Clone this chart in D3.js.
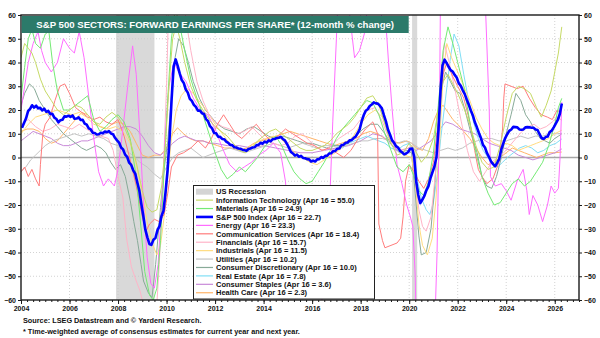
<!DOCTYPE html>
<html>
<head>
<meta charset="utf-8">
<script src="https://cdn.jsdelivr.net/npm/d3@7"></script>
<style>
  html, body { margin: 0; padding: 0; background: #fff; }
  svg { display: block; font-family: "Liberation Sans", Arial, Helvetica, sans-serif; }
</style>
</head>
<body>
<svg id="chart" width="600" height="338"></svg>
<script>
// ---- data -------------------------------------------------------------
// S&P 500 forward EPS, 12-month % change, monthly from Jan 2004 to Apr 2026
const spx = [
  12.5, 14.5, 16.5, 19.5, 20.5, 22, 21, 21.8, 20.7, 20.9, 19.8, 20.6,
  19.2, 19.6, 18.3, 18.4, 16.8, 16.2, 14.8, 15.7, 15.9, 17.3, 17.2, 17.6,
  17.1, 17.7, 16.3, 16.4, 16.9, 15.8, 15.9, 14.3, 13.8, 12.3, 11.8, 10.4,
  10.3, 9.7, 9.8, 10.4, 10.2, 10.9, 10.7, 11.1, 10.1, 9.8, 8.3, 7.2,
  6.3, 4.2, 3.4, 1.2, 0.3, -2.2, -3.1, -5.4, -6.8, -10.4, -13.8, -19.5,
  -24.6, -30.4, -33.6, -36.4, -36.8, -34.6, -33.9, -30.6, -28.9, -24.6, -22.4, -14.6,
  -5.4, 8.4, 24.6, 38.4, 41.3, 38.6, 35.4, 32.6, 31.4, 28.6, 27.3, 24.7,
  23.8, 22.2, 21.3, 19.7, 19.8, 18.6, 18.3, 16.2, 15.3, 13.2, 12.3, 10.3,
  10.2, 8.8, 8.7, 7.8, 7.7, 6.7, 6.2, 5.3, 5.2, 4.3, 4.2, 3.8,
  3.7, 3.3, 3.1, 2.8, 3.6, 3.8, 4.2, 4.3, 5.2, 5.3, 6.2, 5.8,
  6.7, 6.3, 7.2, 6.8, 7.7, 7.8, 8.2, 8.3, 8.7, 7.8, 7.2, 5.8,
  4.2, 2.3, 1.7, 0.8, 1.2, 0.3, 0.7, -0.2, -0.3, -0.7, -0.8, -1.7,
  -1.3, -1.7, -0.8, -0.7, 0.2, -0.2, 0.7, 0.8, 1.7, 1.8, 2.7, 2.8,
  3.7, 3.8, 5.2, 5.3, 6.2, 6.3, 7.2, 7.3, 8.2, 8.8, 10.2, 11.8,
  15.2, 17.8, 19.7, 20.3, 21.7, 22.3, 23.2, 22.8, 22.7, 21.8, 20.7, 17.8,
  15.2, 11.8, 9.7, 7.3, 6.2, 4.8, 4.2, 2.8, 2.2, 1.3, 1.7, 2.3,
  3.7, 3.8, 0.2, -10.2, -15.8, -19.2, -17.8, -16.2, -13.8, -12.2, -8.8, -6.2,
  -3.8, 0.2, 11.8, 28.2, 38.8, 41.2, 39.8, 38.2, 36.8, 36.2, 34.8, 33.7,
  31.3, 30.2, 28.3, 26.7, 24.3, 22.2, 19.8, 17.7, 14.8, 12.7, 10.3, 8.2,
  5.3, 4.2, 1.8, 0.2, -1.7, -2.8, -3.7, -2.3, -0.7, 3.2, 5.8, 8.2,
  9.8, 11.2, 11.8, 12.9, 12.8, 12.7, 11.8, 11.7, 11.8, 12.7, 12.8, 12.7,
  12.5, 12.5, 11.8, 11.6, 9.8, 8.2, 7.8, 8.6, 8.8, 10.7, 11.3, 12.7,
  14.3, 15.8, 18.3, 22.7
];
const spxStart = 2004;

// Sector series as [decimal year, % change]
const infoTech = [[2004.0,42],[2004.15,48],[2004.3,46],[2004.45,44],[2004.6,40],[2004.8,33],[2005.0,28],[2005.25,24],[2005.5,20],[2005.75,18],[2006.0,20],[2006.25,22],[2006.5,21],[2006.75,18],[2007.0,15],[2007.25,14],[2007.5,17],[2007.75,19],[2008.0,17],[2008.25,13],[2008.5,7],[2008.75,-2],[2009.0,-14],[2009.2,-21],[2009.4,-23],[2009.6,-22],[2009.8,-12],[2009.95,5],[2010.1,30],[2010.25,50],[2010.4,56],[2010.55,50],[2010.75,40],[2011.0,30],[2011.25,24],[2011.5,20],[2011.75,16],[2012.0,13],[2012.25,11],[2012.5,9],[2012.75,6],[2013.0,3],[2013.25,2],[2013.5,4],[2013.75,7],[2014.0,9],[2014.25,11],[2014.5,12],[2014.75,10],[2015.0,8],[2015.25,6],[2015.5,4],[2015.75,3],[2016.0,3],[2016.25,4],[2016.5,5],[2016.75,7],[2017.0,10],[2017.25,12],[2017.5,14],[2017.75,17],[2018.0,21],[2018.25,25],[2018.5,26],[2018.75,22],[2019.0,14],[2019.25,6],[2019.5,1],[2019.75,2],[2020.0,6],[2020.25,3],[2020.5,-2],[2020.75,1],[2021.0,8],[2021.2,20],[2021.4,32],[2021.6,35],[2021.8,31],[2022.0,27],[2022.25,21],[2022.5,14],[2022.75,5],[2023.0,-2],[2023.25,-5],[2023.5,-4],[2023.75,5],[2024.0,17],[2024.25,27],[2024.5,30],[2024.75,29],[2025.0,27],[2025.25,21],[2025.45,17],[2025.65,22],[2025.85,28],[2026.0,36],[2026.15,44],[2026.29,55.0]];
const materials = [[2004.0,25],[2004.15,38],[2004.3,50],[2004.45,54],[2004.6,48],[2004.8,46],[2005.0,52],[2005.15,53],[2005.3,40],[2005.5,28],[2005.75,20],[2006.0,20],[2006.25,22],[2006.5,24],[2006.75,26],[2007.0,16],[2007.25,11],[2007.5,13],[2007.75,16],[2008.0,18],[2008.25,15],[2008.5,8],[2008.75,-8],[2008.95,-30],[2009.1,-48],[2009.3,-58],[2009.45,-60],[2009.6,-55],[2009.75,-35],[2009.9,-5],[2010.05,25],[2010.2,50],[2010.35,62],[2010.5,58],[2010.75,45],[2011.0,33],[2011.25,25],[2011.5,18],[2011.75,10],[2012.0,2],[2012.25,-5],[2012.5,-9],[2012.75,-7],[2013.0,-4],[2013.25,-6],[2013.5,-3],[2013.75,0],[2014.0,4],[2014.25,7],[2014.5,9],[2014.75,5],[2015.0,-1],[2015.25,-6],[2015.5,-9],[2015.75,-11],[2016.0,-10],[2016.25,-6],[2016.5,-2],[2016.75,3],[2017.0,8],[2017.25,12],[2017.5,15],[2017.75,18],[2018.0,21],[2018.25,24],[2018.5,23],[2018.75,18],[2019.0,10],[2019.25,3],[2019.5,-4],[2019.75,-6],[2020.0,-3],[2020.2,-8],[2020.4,-14],[2020.6,-16],[2020.8,-10],[2021.0,2],[2021.2,22],[2021.4,45],[2021.6,55],[2021.8,48],[2022.0,40],[2022.25,30],[2022.5,15],[2022.75,2],[2023.0,-8],[2023.25,-15],[2023.5,-20],[2023.75,-19],[2024.0,-15],[2024.25,-11],[2024.5,-9],[2024.75,-12],[2025.0,-10],[2025.25,-6],[2025.5,-2],[2025.75,5],[2026.0,14],[2026.15,21],[2026.29,24.9]];
const energy = [[2004.0,20],[2004.15,30],[2004.3,40],[2004.5,48],[2004.7,53],[2004.85,45],[2005.0,40],[2005.25,36],[2005.5,40],[2005.75,50],[2006.0,46],[2006.2,44],[2006.4,53],[2006.6,42],[2006.8,25],[2007.0,8],[2007.2,-6],[2007.4,-12],[2007.6,-9],[2007.85,-12],[2008.0,-5],[2008.2,12],[2008.4,30],[2008.6,47],[2008.75,35],[2008.9,10],[2009.05,-20],[2009.2,-42],[2009.35,-53],[2009.5,-55],[2009.65,-45],[2009.8,-20],[2009.95,10],[2010.1,30],[2010.3,40],[2010.5,36],[2010.8,32],[2011.1,25],[2011.4,20],[2011.7,18],[2012.0,12],[2012.3,4],[2012.6,-3],[2012.9,-6],[2013.2,-4],[2013.5,-2],[2013.8,1],[2014.1,3],[2014.4,6],[2014.7,2],[2014.9,-10],[2015.05,-30],[2015.2,-50],[2015.35,-68],[2015.6,-72],[2015.9,-75],[2016.2,-70],[2016.5,-55],[2016.7,-25],[2016.85,15],[2017.0,50],[2017.1,75],[2017.35,85],[2017.55,60],[2017.75,42],[2017.95,45],[2018.15,52],[2018.3,65],[2018.6,70],[2018.85,60],[2019.05,55],[2019.15,40],[2019.3,20],[2019.5,-3],[2019.7,-11],[2019.9,-20],[2020.05,-25],[2020.15,-29],[2020.25,-50],[2020.3,-80],[2020.6,-95],[2021.0,-90],[2021.15,-40],[2021.25,20],[2021.3,80],[2021.6,200],[2022.0,180],[2022.5,120],[2022.9,80],[2023.15,62],[2023.3,20],[2023.35,-8],[2023.55,-12],[2023.8,-11],[2024.0,-14],[2024.2,-18],[2024.45,-10],[2024.7,-5],[2024.85,-14],[2024.95,-24],[2025.1,-16],[2025.3,-20],[2025.5,-27],[2025.7,-20],[2025.85,-12],[2026.0,-15],[2026.15,-13],[2026.22,0],[2026.29,23.3]];
const commServices = [[2004.0,-6],[2004.15,-4],[2004.3,-8],[2004.45,-5],[2004.6,-9],[2004.75,-12],[2004.8,-3],[2004.9,10],[2005.0,14],[2005.2,17],[2005.4,24],[2005.6,30],[2005.8,31],[2006.0,27],[2006.25,21],[2006.5,19],[2006.75,17],[2007.0,16],[2007.25,17],[2007.5,15],[2007.75,14],[2008.0,16],[2008.25,9],[2008.5,-1],[2008.75,-12],[2009.0,-25],[2009.15,-31],[2009.3,-28],[2009.5,-26],[2009.7,-27],[2009.9,-24],[2010.05,-15],[2010.2,-4],[2010.45,1],[2010.7,2],[2011.0,4],[2011.3,7],[2011.6,4],[2011.85,8],[2012.1,14],[2012.35,18],[2012.6,14],[2012.85,10],[2013.1,8],[2013.4,11],[2013.7,14],[2014.0,10],[2014.3,7],[2014.6,9],[2014.9,12],[2015.2,10],[2015.5,8],[2015.8,6],[2016.1,5],[2016.4,3],[2016.7,4],[2017.0,2],[2017.3,0],[2017.6,3],[2017.9,8],[2018.2,12],[2018.5,15],[2018.7,10],[2018.75,-28],[2018.9,-35],[2019.0,-38],[2019.25,-37],[2019.5,-36],[2019.65,-34],[2019.75,-25],[2019.85,-10],[2020.0,-3],[2020.2,-6],[2020.4,-10],[2020.6,-13],[2020.8,-9],[2021.0,-2],[2021.2,15],[2021.4,35],[2021.55,40],[2021.8,34],[2022.0,30],[2022.25,25],[2022.5,15],[2022.7,3],[2022.85,-5],[2023.0,-8],[2023.2,-11],[2023.45,-9],[2023.7,-2],[2023.85,12],[2023.9,25],[2023.95,31],[2024.2,30],[2024.45,29],[2024.7,30],[2024.95,25],[2025.2,21],[2025.45,18],[2025.7,17],[2025.9,16],[2026.1,20],[2026.29,18.4]];
const financials = [[2004.0,14],[2004.3,16],[2004.6,13],[2004.9,11],[2005.2,12],[2005.5,14],[2005.8,13],[2006.1,12],[2006.4,14],[2006.7,12],[2007.0,10],[2007.3,9],[2007.6,8],[2007.8,3],[2008.0,-8],[2008.2,-17],[2008.35,-34],[2008.55,-46],[2008.75,-52],[2008.9,-56],[2009.05,-62],[2009.3,-75],[2009.55,-70],[2009.7,-45],[2009.85,-10],[2010.0,30],[2010.1,70],[2010.3,90],[2010.6,75],[2010.8,58],[2011.0,45],[2011.25,32],[2011.5,24],[2011.75,18],[2012.0,15],[2012.3,13],[2012.6,12],[2012.9,10],[2013.2,11],[2013.5,13],[2013.8,10],[2014.1,7],[2014.4,6],[2014.7,5],[2015.0,6],[2015.3,9],[2015.6,10],[2015.9,7],[2016.2,4],[2016.5,3],[2016.8,5],[2017.1,8],[2017.4,10],[2017.7,12],[2018.0,16],[2018.3,20],[2018.6,21],[2018.9,15],[2019.2,7],[2019.5,4],[2019.8,3],[2020.1,5],[2020.25,-8],[2020.4,-22],[2020.55,-29],[2020.7,-31],[2020.9,-25],[2021.1,-5],[2021.3,30],[2021.45,48],[2021.65,40],[2021.9,28],[2022.15,15],[2022.4,3],[2022.65,-6],[2022.9,-10],[2023.15,-6],[2023.4,-2],[2023.65,0],[2023.9,2],[2024.15,5],[2024.4,8],[2024.65,11],[2024.9,13],[2025.15,14],[2025.4,12],[2025.65,13],[2025.9,15],[2026.1,17],[2026.29,15.7]];
const industrials = [[2004.0,10],[2004.3,14],[2004.6,17],[2004.9,18],[2005.2,19],[2005.5,20],[2005.8,19],[2006.1,18],[2006.4,19],[2006.7,17],[2007.0,14],[2007.3,13],[2007.6,12],[2007.9,13],[2008.2,11],[2008.5,6],[2008.75,-3],[2009.0,-15],[2009.2,-27],[2009.4,-36],[2009.6,-41],[2009.75,-37],[2009.9,-25],[2010.05,-8],[2010.2,8],[2010.4,20],[2010.6,26],[2010.85,29],[2011.1,27],[2011.4,23],[2011.7,19],[2012.0,14],[2012.3,10],[2012.6,6],[2012.9,4],[2013.2,3],[2013.5,5],[2013.8,7],[2014.1,8],[2014.4,9],[2014.7,8],[2015.0,5],[2015.3,2],[2015.6,0],[2015.9,-2],[2016.2,-3],[2016.5,-1],[2016.8,1],[2017.1,3],[2017.4,6],[2017.7,9],[2018.0,14],[2018.3,18],[2018.6,20],[2018.9,17],[2019.2,9],[2019.5,4],[2019.8,1],[2020.1,0],[2020.25,-10],[2020.4,-28],[2020.55,-37],[2020.75,-41],[2020.95,-34],[2021.1,-18],[2021.25,5],[2021.4,35],[2021.55,48],[2021.75,42],[2022.0,36],[2022.25,30],[2022.5,24],[2022.75,17],[2023.0,12],[2023.25,8],[2023.5,6],[2023.75,5],[2024.0,6],[2024.25,5],[2024.5,3],[2024.75,4],[2025.0,5],[2025.25,6],[2025.5,7],[2025.75,8],[2026.0,10],[2026.29,11.5]];
const utilities = [[2004.0,-6],[2004.2,-4],[2004.4,-1],[2004.6,1],[2004.8,3],[2005.0,5],[2005.3,7],[2005.6,8],[2005.9,9],[2006.2,10],[2006.5,9],[2006.8,10],[2007.1,9],[2007.4,8],[2007.7,6],[2008.0,5],[2008.3,3],[2008.6,1],[2008.9,-2],[2009.2,-4],[2009.5,-7],[2009.75,-9],[2010.0,-4],[2010.25,0],[2010.5,2],[2010.75,3],[2011.0,4],[2011.25,2],[2011.5,0],[2011.75,1],[2012.0,2],[2012.3,3],[2012.6,4],[2012.9,3],[2013.2,2],[2013.5,3],[2013.8,4],[2014.1,5],[2014.4,6],[2014.7,5],[2015.0,4],[2015.3,5],[2015.6,6],[2015.9,5],[2016.2,4],[2016.5,5],[2016.8,5],[2017.1,4],[2017.4,5],[2017.7,6],[2018.0,7],[2018.3,7],[2018.6,8],[2018.9,8],[2019.2,7],[2019.5,6],[2019.8,7],[2020.1,6],[2020.4,4],[2020.7,3],[2021.0,2],[2021.3,3],[2021.6,4],[2021.9,3],[2022.2,4],[2022.5,6],[2022.8,7],[2023.1,8],[2023.4,8],[2023.7,7],[2024.0,7],[2024.3,8],[2024.6,9],[2024.9,8],[2025.2,9],[2025.5,9],[2025.8,10],[2026.1,10],[2026.29,10.2]];
const consDiscretionary = [[2004.0,22],[2004.15,27],[2004.35,31],[2004.55,29],[2004.75,24],[2005.0,20],[2005.25,16],[2005.5,13],[2005.75,10],[2006.0,8],[2006.25,6],[2006.5,4],[2006.7,3],[2006.9,4],[2007.1,5],[2007.3,4],[2007.5,2],[2007.7,-2],[2007.9,-5],[2008.1,-3],[2008.3,-8],[2008.5,-18],[2008.65,-27],[2008.8,-35],[2008.95,-45],[2009.05,-52],[2009.25,-57],[2009.4,-59],[2009.55,-45],[2009.75,-21],[2009.9,-5],[2010.05,7],[2010.2,25],[2010.35,42],[2010.5,50],[2010.7,47],[2010.9,40],[2011.1,32],[2011.35,25],[2011.6,20],[2011.85,17],[2012.1,14],[2012.4,12],[2012.7,11],[2013.0,10],[2013.3,12],[2013.6,13],[2013.9,11],[2014.2,9],[2014.5,8],[2014.8,9],[2015.1,8],[2015.4,7],[2015.7,6],[2016.0,6],[2016.3,5],[2016.6,4],[2016.9,5],[2017.2,5],[2017.5,6],[2017.8,9],[2018.1,12],[2018.4,14],[2018.7,14],[2019.0,10],[2019.3,5],[2019.6,2],[2019.9,3],[2020.1,2],[2020.25,-15],[2020.4,-33],[2020.5,-41],[2020.7,-40],[2020.9,-30],[2021.05,-12],[2021.2,10],[2021.35,30],[2021.5,36],[2021.7,32],[2021.9,28],[2022.1,27],[2022.3,20],[2022.55,10],[2022.8,2],[2023.0,-8],[2023.2,-12],[2023.4,-13],[2023.6,-8],[2023.8,0],[2024.0,10],[2024.2,18],[2024.4,27],[2024.6,24],[2024.8,18],[2025.0,15],[2025.2,11],[2025.4,8],[2025.6,7],[2025.8,6],[2026.0,8],[2026.15,9],[2026.29,10.0]];
const realEstate = [[2016.75,6],[2017.0,5],[2017.25,4],[2017.5,6],[2017.75,7],[2018.0,8],[2018.25,9],[2018.5,8],[2018.75,7],[2019.0,6],[2019.25,4],[2019.5,3],[2019.75,5],[2020.0,6],[2020.2,1],[2020.35,-10],[2020.5,-17],[2020.7,-22],[2020.85,-24],[2021.0,-19],[2021.15,-8],[2021.3,8],[2021.5,25],[2021.7,42],[2021.85,52],[2022.05,47],[2022.25,35],[2022.45,24],[2022.65,15],[2022.85,8],[2023.05,3],[2023.25,0],[2023.45,-3],[2023.65,-4],[2023.85,-2],[2024.05,0],[2024.3,2],[2024.55,4],[2024.8,5],[2025.05,4],[2025.3,2],[2025.55,3],[2025.8,5],[2026.05,6],[2026.29,7.8]];
const consStaples = [[2004.0,7],[2004.25,9],[2004.5,11],[2004.75,10],[2005.0,9],[2005.25,8],[2005.5,6],[2005.75,5],[2006.0,5],[2006.25,6],[2006.5,7],[2006.75,7],[2007.0,8],[2007.25,9],[2007.5,10],[2007.75,11],[2008.0,12],[2008.25,13],[2008.5,13],[2008.75,12],[2009.0,9],[2009.25,5],[2009.5,2],[2009.75,1],[2010.0,3],[2010.25,6],[2010.5,8],[2010.75,9],[2011.0,8],[2011.25,7],[2011.5,7],[2011.75,6],[2012.0,6],[2012.5,5],[2013.0,5],[2013.5,4],[2014.0,5],[2014.5,4],[2015.0,3],[2015.5,2],[2016.0,2],[2016.5,3],[2017.0,4],[2017.5,5],[2018.0,7],[2018.5,10],[2018.9,9],[2019.2,6],[2019.6,3],[2020.0,4],[2020.3,3],[2020.6,5],[2020.9,7],[2021.2,11],[2021.5,15],[2021.8,14],[2022.1,12],[2022.4,11],[2022.7,10],[2023.0,8],[2023.3,6],[2023.6,5],[2023.9,4],[2024.2,3],[2024.5,1],[2024.8,0],[2025.1,-1],[2025.4,0],[2025.7,1],[2026.0,2],[2026.29,3.6]];
const healthCare = [[2004.0,11],[2004.25,12],[2004.5,12],[2004.75,11],[2005.0,8],[2005.25,6],[2005.5,7],[2005.75,10],[2006.0,13],[2006.25,16],[2006.5,19],[2006.75,18],[2007.0,15],[2007.25,13],[2007.5,12],[2007.75,14],[2008.0,15],[2008.25,14],[2008.5,11],[2008.75,6],[2009.0,1],[2009.25,0],[2009.5,1],[2009.75,1],[2010.0,4],[2010.25,10],[2010.45,12.5],[2010.7,10],[2010.95,8],[2011.2,7],[2011.5,7],[2011.8,6],[2012.1,5],[2012.4,4],[2012.7,4],[2013.0,3],[2013.3,4],[2013.6,6],[2013.9,7],[2014.2,8],[2014.5,9],[2014.8,10],[2015.1,11],[2015.4,10],[2015.7,9],[2016.0,8],[2016.3,7],[2016.6,6],[2016.9,5],[2017.2,6],[2017.5,7],[2017.8,8],[2018.1,10],[2018.4,11],[2018.7,10],[2019.0,8],[2019.3,7],[2019.6,6],[2019.9,7],[2020.1,6],[2020.3,4],[2020.55,3],[2020.8,8],[2021.0,15],[2021.2,20],[2021.4,22],[2021.6,19],[2021.8,16],[2022.0,14],[2022.25,11],[2022.5,8],[2022.75,4],[2023.0,0],[2023.25,-3],[2023.5,-2],[2023.75,0],[2024.0,2],[2024.25,4],[2024.5,3],[2024.75,2],[2025.0,1],[2025.25,0],[2025.5,1],[2025.75,2],[2026.0,2],[2026.29,2.3]];

// US recessions (start, end) in decimal years
const recessions = [[2007.92, 2009.5], [2020.12, 2020.33]];

const yTicks = d3.range(-60, 61, 10);
const xTicks = d3.range(2004, 2027, 2);

// ---- layout -----------------------------------------------------------
const svg = d3.select("#chart");
const L = 21, R = 579, T = 15, B = 300;
const x = d3.scaleLinear().domain([2004, 2027]).range([L, R]);
const y = d3.scaleLinear().domain([-60, 60]).range([B, T]);

svg.append("defs").append("clipPath").attr("id", "plot-clip")
  .append("rect").attr("x", L).attr("y", T).attr("width", R - L).attr("height", B - T);

// recession shading
svg.append("g").selectAll("rect").data(recessions).join("rect")
  .attr("x", d => x(d[0])).attr("y", T)
  .attr("width", d => Math.max(2, x(d[1]) - x(d[0])))
  .attr("height", B - T)
  .attr("fill", "#d9d9d9");

// grid
const grid = svg.append("g").attr("stroke", "#c8c8c8").attr("stroke-width", 0.8)
  .attr("stroke-dasharray", "1,2");
grid.selectAll(".h").data(yTicks.filter(v => v > -60 && v < 60 && v !== 0)).join("line")
  .attr("x1", L).attr("x2", R).attr("y1", d => y(d)).attr("y2", d => y(d));
grid.selectAll(".v").data(xTicks.filter(v => v > 2004)).join("line")
  .attr("y1", T).attr("y2", B).attr("x1", d => x(d)).attr("x2", d => x(d));

// zero line
svg.append("line").attr("x1", L).attr("x2", R).attr("y1", y(0)).attr("y2", y(0))
  .attr("stroke", "#a6a6a6").attr("stroke-width", 1.6);

// series
const sectors = [
  { name: "Information Technology", color: "#c6da66", data: infoTech },
  { name: "Materials", color: "#74ea74", data: materials },
  { name: "Energy", color: "#ff6cff", data: energy },
  { name: "Communication Services", color: "#ff7c7c", data: commServices },
  { name: "Financials", color: "#ffb4c8", data: financials },
  { name: "Industrials", color: "#ffdc80", data: industrials },
  { name: "Utilities", color: "#c4c4c4", data: utilities },
  { name: "Consumer Discretionary", color: "#88aa98", data: consDiscretionary },
  { name: "Real Estate", color: "#80def5", data: realEstate },
  { name: "Consumer Staples", color: "#c88ad8", data: consStaples },
  { name: "Health Care", color: "#ffb468", data: healthCare }
];
const spxPoints = spx.map((v, i) => [spxStart + (i + 0.5) / 12, v]);

const line = d3.line().x(d => x(d[0])).y(d => y(d[1]));
const plot = svg.append("g").attr("clip-path", "url(#plot-clip)");
plot.selectAll("path.sector").data(sectors.slice().reverse()).join("path")
  .attr("class", "sector")
  .attr("d", d => line(d.data))
  .attr("fill", "none").attr("stroke", d => d.color).attr("stroke-width", 1)
  .attr("stroke-linejoin", "round");
plot.append("path").attr("d", line(spxPoints))
  .attr("fill", "none").attr("stroke", "#0000ff").attr("stroke-width", 2.6)
  .attr("stroke-linejoin", "round");

// frame
svg.append("rect").attr("x", L).attr("y", T).attr("width", R - L).attr("height", B - T)
  .attr("fill", "none").attr("stroke", "#1a1a1a").attr("stroke-width", 1.4);

// axes
function styleAxis(g) {
  g.select(".domain").remove();
  g.selectAll("text").attr("font-size", 7).attr("font-weight", "bold").attr("fill", "#111")
    .attr("font-family", "Liberation Sans, Arial, sans-serif");
  g.selectAll("line").attr("stroke", "#1a1a1a");
}
svg.append("g").attr("transform", `translate(${L},0)`)
  .call(d3.axisLeft(y).tickValues(yTicks).tickSize(3).tickPadding(2)).call(styleAxis);
svg.append("g").attr("transform", `translate(${R},0)`)
  .call(d3.axisRight(y).tickValues(yTicks).tickSize(3).tickPadding(2)).call(styleAxis);
svg.append("g").attr("transform", `translate(0,${B})`)
  .call(d3.axisBottom(x).tickValues(d3.range(2004, 2027.01, 0.25)).tickSize(2).tickFormat(""))
  .call(styleAxis);
svg.append("g").attr("transform", `translate(0,${B})`)
  .call(d3.axisBottom(x).tickValues(xTicks).tickSize(4).tickPadding(2).tickFormat(d3.format("d")))
  .call(styleAxis);

// title banner
svg.append("rect").attr("x", L + 0.7).attr("y", T + 1).attr("width", 387).attr("height", 17)
  .attr("fill", "#2c7a6a");
svg.append("text").attr("x", L + 0.7 + 387 / 2).attr("y", T + 13)
  .attr("text-anchor", "middle").attr("fill", "#fff").attr("font-weight", "bold")
  .attr("font-size", 9.6)
  .text("S&P 500 SECTORS: FORWARD EARNINGS PER SHARE* (12-month % change)");

// legend
const fmt = d3.format(".1f");
const legendItems = [
  { label: "US Recession", kind: "rect", color: "#d4d4d4" },
  { label: `Information Technology (Apr 16 = ${fmt(infoTech[infoTech.length - 1][1])})`, color: "#c6da66" },
  { label: `Materials (Apr 16 = ${fmt(materials[materials.length - 1][1])})`, color: "#74ea74" },
  { label: `S&P 500 Index (Apr 16 = ${fmt(spx[spx.length - 1])})`, color: "#0000ff", width: 2.6 },
  ...sectors.slice(2).map(s => ({
    label: `${s.name} (Apr 16 = ${fmt(s.data[s.data.length - 1][1])})`, color: s.color
  }))
];
const lg = svg.append("g");
lg.append("rect").attr("x", 193.5).attr("y", 185.5).attr("width", 181).attr("height", 113.5)
  .attr("fill", "#fff").attr("stroke", "#222").attr("stroke-width", 1);
const rowY = i => 191.7 + i * 8.42;
const rows = lg.selectAll("g.row").data(legendItems).join("g").attr("class", "row");
rows.filter(d => d.kind === "rect").append("rect")
  .attr("x", 196).attr("y", rowY(0) - 3).attr("width", 17).attr("height", 6)
  .attr("fill", d => d.color);
rows.filter(d => d.kind !== "rect").append("line")
  .attr("x1", 196).attr("x2", 213)
  .attr("y1", d => rowY(legendItems.indexOf(d))).attr("y2", d => rowY(legendItems.indexOf(d)))
  .attr("stroke", d => d.color).attr("stroke-width", d => d.width || 1.2);
rows.append("text")
  .attr("x", 216).attr("y", (d, i) => rowY(i) + 2.7)
  .attr("font-size", 7.5).attr("font-weight", "bold").attr("fill", "#111")
  .text(d => d.label);

// footnotes
const notes = svg.append("g").attr("font-size", 7.3).attr("font-weight", "bold").attr("fill", "#111");
notes.append("text").attr("x", 23).attr("y", 322.5)
  .text("Source: LSEG Datastream and \u00A9 Yardeni Research.");
notes.append("text").attr("x", 23).attr("y", 333.5)
  .text("* Time-weighted average of consensus estimates for current year and next year.");
</script>
</body>
</html>
